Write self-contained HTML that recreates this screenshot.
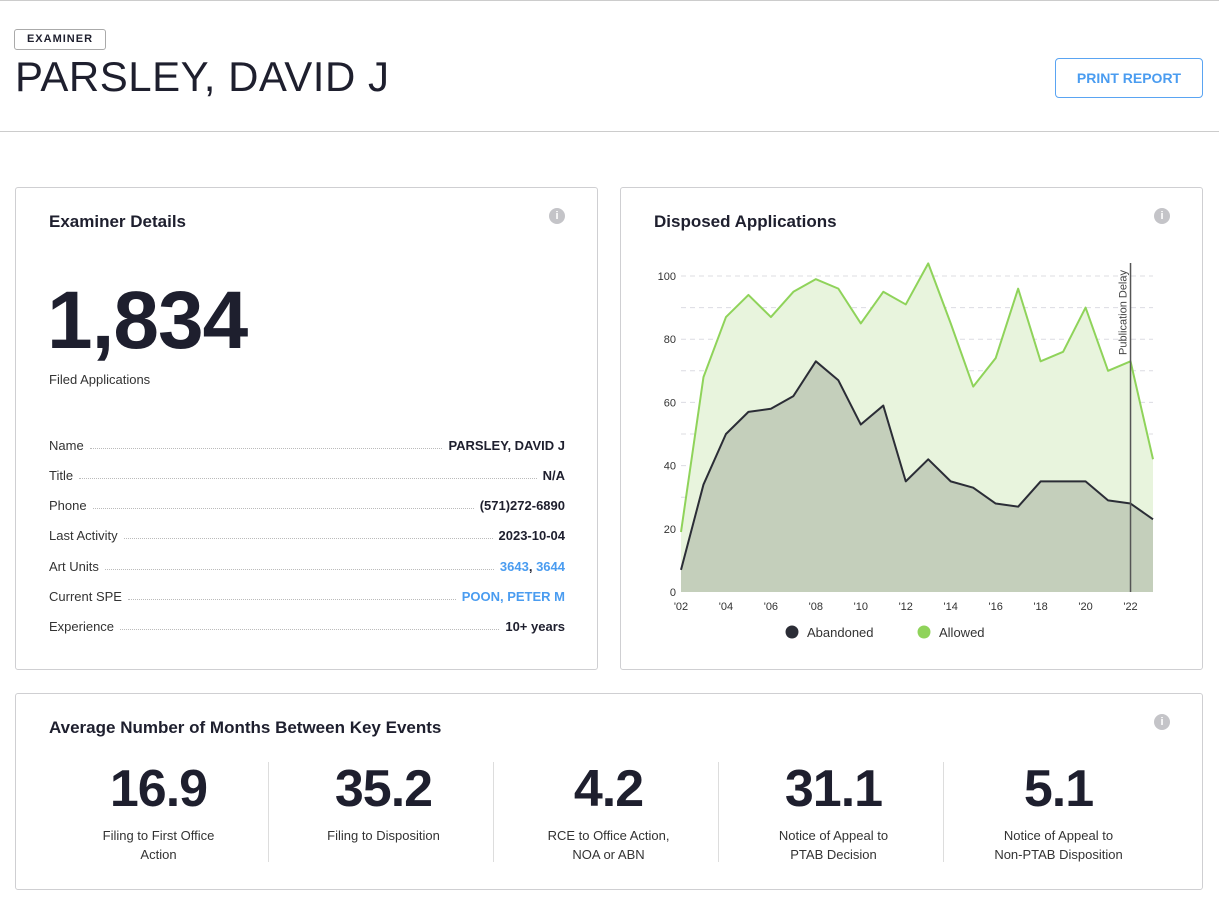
<!DOCTYPE html>
<html><head><meta charset="utf-8"><style>
*{box-sizing:border-box;margin:0;padding:0}
body{width:1219px;height:903px;background:#fff;font-family:"Liberation Sans","DejaVu Sans",sans-serif;color:#1e1f2e;position:relative;overflow:hidden}
.abs{position:absolute}
.panel{position:absolute;border:1px solid #cfcfd2;border-radius:3px;background:#fff}
.h2{position:absolute;font-weight:bold;font-size:17px;color:#1e1f2e}
.info{position:absolute;width:16px;height:16px;border-radius:50%;background:#c4c4c8;color:#fff;font-size:11px;font-weight:bold;text-align:center;line-height:16px}
.row{position:absolute;left:49px;width:516px;height:20px;font-size:13px;display:flex;align-items:flex-end}
.row .l{color:#333}
.row .d{flex:1;border-bottom:1px dotted #bbb;margin:0 6px 4px}
.row .v{font-weight:bold;color:#1e1f2e}
.blue{color:#4a9cf0 !important}
.stat{position:absolute;top:760px;width:225px;text-align:center}
.stat .n{font-size:52px;font-weight:bold;letter-spacing:-1px;line-height:58px;color:#1e1f2e}
.stat .t{font-size:13px;color:#333;line-height:19px;margin-top:8px}
.sep{position:absolute;top:762px;width:1px;height:100px;background:#ddd}
</style></head><body>
<div class="abs" style="left:0;top:0;width:1219px;height:1px;background:#ccc"></div>
<div class="abs" style="left:14px;top:29px;width:92px;height:21px;border:1px solid #aaa;border-radius:3px;font-size:11px;font-weight:bold;letter-spacing:1px;text-align:center;line-height:19px">EXAMINER</div>
<div class="abs" style="left:15px;top:53px;font-size:42px;letter-spacing:0.5px;line-height:48px;color:#1e1f2e">PARSLEY, DAVID J</div>
<div class="abs" style="left:1055px;top:58px;width:148px;height:40px;border:1px solid #5aa4f2;border-radius:4px;color:#4a9cf0;font-size:14px;font-weight:bold;text-align:center;line-height:38px">PRINT REPORT</div>
<div class="abs" style="left:0;top:131px;width:1219px;height:1px;background:#ccc"></div>

<div class="panel" style="left:15px;top:187px;width:583px;height:483px"></div>
<div class="h2" style="left:49px;top:212px">Examiner Details</div>
<div class="info" style="left:549px;top:208px">i</div>
<div class="abs" style="left:47px;top:276px;font-size:82px;font-weight:bold;letter-spacing:-1px;line-height:90px">1,834</div>
<div class="abs" style="left:49px;top:372px;font-size:13px;color:#333">Filed Applications</div>
<div class="row" style="top:433px"><span class="l">Name</span><span class="d"></span><span class="v">PARSLEY, DAVID J</span></div>
<div class="row" style="top:463px"><span class="l">Title</span><span class="d"></span><span class="v">N/A</span></div>
<div class="row" style="top:493px"><span class="l">Phone</span><span class="d"></span><span class="v">(571)272-6890</span></div>
<div class="row" style="top:523px"><span class="l">Last Activity</span><span class="d"></span><span class="v">2023-10-04</span></div>
<div class="row" style="top:554px"><span class="l">Art Units</span><span class="d"></span><span class="v"><span class="blue">3643</span>, <span class="blue">3644</span></span></div>
<div class="row" style="top:584px"><span class="l">Current SPE</span><span class="d"></span><span class="v blue">POON, PETER M</span></div>
<div class="row" style="top:614px"><span class="l">Experience</span><span class="d"></span><span class="v">10+ years</span></div>

<div class="panel" style="left:620px;top:187px;width:583px;height:483px"></div>
<div class="h2" style="left:654px;top:212px">Disposed Applications</div>
<div class="info" style="left:1154px;top:208px">i</div>
<svg id="chart" class="abs" style="left:0;top:0" width="1219" height="903"></svg>

<div class="panel" style="left:15px;top:693px;width:1188px;height:197px"></div>
<div class="h2" style="left:49px;top:718px">Average Number of Months Between Key Events</div>
<div class="info" style="left:1154px;top:714px">i</div>
<div class="stat" style="left:46px"><div class="n">16.9</div><div class="t">Filing to First Office<br>Action</div></div>
<div class="sep" style="left:268px"></div>
<div class="stat" style="left:271px"><div class="n">35.2</div><div class="t">Filing to Disposition</div></div>
<div class="sep" style="left:493px"></div>
<div class="stat" style="left:496px"><div class="n">4.2</div><div class="t">RCE to Office Action,<br>NOA or ABN</div></div>
<div class="sep" style="left:718px"></div>
<div class="stat" style="left:721px"><div class="n">31.1</div><div class="t">Notice of Appeal to<br>PTAB Decision</div></div>
<div class="sep" style="left:943px"></div>
<div class="stat" style="left:946px"><div class="n">5.1</div><div class="t">Notice of Appeal to<br>Non-PTAB Disposition</div></div>

<script>
const years=[2002,2003,2004,2005,2006,2007,2008,2009,2010,2011,2012,2013,2014,2015,2016,2017,2018,2019,2020,2021,2022,2023];
const allowed=[19,68,87,94,87,95,99,96,85,95,91,104,85,65,74,96,73,76,90,70,73,42];
const abandoned=[7,34,50,57,58,62,73,67,53,59,35,42,35,33,28,27,35,35,35,29,28,23];
const yTicks=[0,20,40,60,80,100];
const xTickYears=[2002,2004,2006,2008,2010,2012,2014,2016,2018,2020,2022];
const delayYear=2022;
const NS='http://www.w3.org/2000/svg';
const svg=document.getElementById('chart');
const x0=681,x1=1153,yb=592,yt=276;
const X=v=>x0+(v-2002)/(2023-2002)*(x1-x0);
const Y=v=>yb-v/100*(yb-yt);
function mk(t,a){const e=document.createElementNS(NS,t);for(const k in a)e.setAttribute(k,a[k]);svg.appendChild(e);return e;}
for(let g=10;g<=100;g+=10){const l=mk('line',{x1:x0,x2:x1,y1:Y(g),y2:Y(g),stroke:'#dcdce2','stroke-dasharray':'5,4'});

}
yTicks.forEach(v=>{const t=mk('text',{x:676,y:Y(v)+4,'text-anchor':'end','font-size':'11',fill:'#333'});t.textContent=v;

});
xTickYears.forEach(v=>{const t=mk('text',{x:X(v),y:610,'text-anchor':'middle','font-size':'11',fill:'#333'});t.textContent="'"+String(v).slice(2);

});
function area(vals,fill,stroke,name){
 let d=vals.map((v,i)=>(i?'L':'M')+X(years[i])+','+Y(v)).join('');
 const a=mk('path',{d:d+'L'+X(years[years.length-1])+','+yb+'L'+X(years[0])+','+yb+'Z',fill:fill});
 
 
 const l=mk('path',{d:d,fill:'none',stroke:stroke,'stroke-width':'2','stroke-linejoin':'round'});
 
 
}
area(allowed,'#e8f4dd','#8fd35a','allowed');
area(abandoned,'#c4cfbb','#2b2d36','abandoned');
const dl=mk('line',{x1:X(delayYear),x2:X(delayYear),y1:263,y2:yb,stroke:'#555','stroke-width':'1.5'});


const dt=mk('text',{x:0,y:0,'font-size':'11',fill:'#444',transform:'translate('+(X(delayYear)-4)+',270) rotate(-90)','text-anchor':'end'});
dt.textContent='Publication Delay';


[[792,'#2b2d36','Abandoned',807],[924,'#8fd35a','Allowed',939]].forEach(([cx,c,t,tx])=>{
 const ci=mk('circle',{cx:cx,cy:632,r:6.5,fill:c});
 
 
 const te=mk('text',{x:tx,y:637,'font-size':'13',fill:'#333'});te.textContent=t;
 
 
});
</script>
</body></html>
